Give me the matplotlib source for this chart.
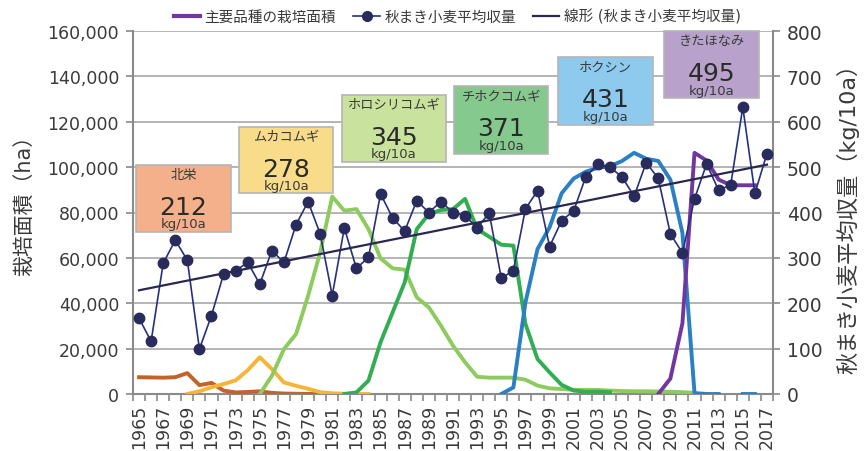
import numpy as np
import matplotlib.pyplot as plt
from matplotlib.lines import Line2D
from matplotlib.patches import Rectangle

plt.rcParams['font.family'] = ['DejaVu Sans', 'Noto Sans CJK JP']

years = np.arange(1965, 2018)

# average yield of autumn-sown wheat (kg/10a)
yields = [167, 116, 288, 339, 295, 99, 173, 264, 272, 290,
          242, 316, 290, 373, 424, 353, 217, 366, 277, 301,
          441, 388, 359, 426, 400, 424, 400, 393, 366, 399,
          255, 272, 408, 448, 325, 382, 404, 479, 506, 500,
          478, 436, 510, 475, 353, 311, 430, 507, 449, 461,
          632, 442, 530]

# planted area of main varieties (ha), each from its first year
hokuei_start = 1965
hokuei = [7400, 7300, 7200, 7400, 9200, 3900, 4900, 1500, 700, 900,
          1200, 500, 200, 100, 50, 0, 0]
mukakomugi_start = 1969
mukakomugi = [0, 1200, 3000, 4400, 6000, 10500, 16200, 11000, 5100, 3600,
              2300, 800, 300, 100, 0, 0]
horoshiri_start = 1975
horoshiri = [0, 8000, 19800, 26400, 43300, 62400, 87000, 80800, 81500, 72700,
             59800, 55400, 54800, 42600, 38200, 30100, 21300, 14000, 7600, 7200,
             7200, 7200, 6300, 3700, 2500, 2200, 1800, 1800, 1800, 1500,
             1300, 1200, 1200, 1100, 1000, 800, 500]
chihoku_start = 1982
chihoku = [0, 700, 5900, 22800, 36000, 49200, 72700, 79300, 81100, 81500,
           86000, 72700, 69300, 65800, 65400, 30900, 15400, 9500, 4000, 1500,
           1000, 1000, 800]
hokushin_start = 1995
hokushin = [0, 2900, 40400, 63900, 73500, 88500, 95000, 98000, 99700, 100400,
            102700, 106300, 103700, 102700, 94500, 71000, 400, 0, 0, np.nan,
            0, 0]
kitahonami_start = 2008
kitahonami = [0, 6800, 31200, 106300, 102900, 94500, 92000, 92000, 92000]

variety_names = ['北栄', 'ムカコムギ', 'ホロシリコムギ', 'チホクコムギ', 'ホクシン', 'きたほなみ']
variety_yields = [212, 278, 345, 371, 431, 495]

line_colors = ['#c4622c', '#f6b536', '#8dcb5e', '#33ad52', '#2b7fc3', '#7236a0']
box_colors = ['#f4b08a', '#f8dc8a', '#c9e29d', '#85c98f', '#8dcaee', '#b8a1cb']
# box position in axes fraction: x0, y0, width, height
box_layout = [(0.005, 0.446, 0.148, 0.185),
              (0.166, 0.554, 0.147, 0.182),
              (0.327, 0.639, 0.162, 0.185),
              (0.502, 0.661, 0.147, 0.187),
              (0.664, 0.741, 0.148, 0.187),
              (0.830, 0.815, 0.148, 0.185)]


def full_series(start, values):
    arr = np.full(len(years), np.nan)
    i = start - years[0]
    arr[i:i + len(values)] = values
    return arr


areas = [full_series(hokuei_start, hokuei),
         full_series(mukakomugi_start, mukakomugi),
         full_series(horoshiri_start, horoshiri),
         full_series(chihoku_start, chihoku),
         full_series(hokushin_start, hokushin),
         full_series(kitahonami_start, kitahonami)]

text_color = '#3a3a3a'
spine_color = '#8a8a8a'

fig = plt.figure(figsize=(8.66, 4.52), dpi=100)
ax = fig.add_axes([133 / 866, 57 / 452, 640 / 866, 363 / 452])
ax2 = ax.twinx()

for area, c in zip(areas, line_colors):
    ax.plot(years, area, color=c, lw=2.8, zorder=3)

ax2.plot(years, yields, color='#25307e', lw=1.2, marker='o', ms=7.5,
         mfc='#282b5c', mec='#282b5c', zorder=4)
coef = np.polyfit(years, yields, 1)
ax2.plot(years, np.polyval(coef, years), color='#2a2850', lw=1.6, zorder=4)

ax.set_xlim(1964.5, 2017.5)
ax.set_ylim(0, 160000)
ax2.set_ylim(0, 800)
ax.set_yticks(np.arange(0, 160001, 20000))
ax.set_yticklabels([f'{v:,}' for v in range(0, 160001, 20000)])
ax2.set_yticks(np.arange(0, 801, 100))

ax.yaxis.grid(True, color='#a8a8a8', lw=1.2)
ax.set_axisbelow(True)

ax.set_xticks(years[::2])
ax.set_xticklabels([str(y) for y in years[::2]], rotation=90)
ax.set_xticks(np.arange(1964.5, 2018), minor=True)
ax.tick_params(axis='x', which='major', length=0, pad=7, labelsize=12.5, labelcolor=text_color)
ax.tick_params(axis='x', which='minor', length=5, width=1.2, color=spine_color)
ax.tick_params(axis='y', length=5, width=1.2, color=spine_color, pad=5,
               labelsize=12.5, labelcolor=text_color)
ax2.tick_params(axis='y', length=5, width=1.2, color=spine_color, pad=5,
                labelsize=13.5, labelcolor=text_color)

for s in ['top', 'right']:
    ax.spines[s].set_visible(False)
for s in ['top', 'left', 'bottom']:
    ax2.spines[s].set_visible(False)
for sp in [ax.spines['left'], ax.spines['bottom'], ax2.spines['right']]:
    sp.set_color(spine_color)
    sp.set_linewidth(1.5)

# variety boxes
for name, val, bc, (x0, y0, w, h) in zip(variety_names, variety_yields, box_colors, box_layout):
    ax2.add_patch(Rectangle((x0, y0), w, h, transform=ax2.transAxes, facecolor=bc,
                            edgecolor='#b5b5b5', lw=1.2, zorder=10, clip_on=False))
    top = y0 + h
    cx = x0 + w / 2
    ax2.text(cx, top - 10 / 363, name, transform=ax2.transAxes, ha='center', va='center',
             fontsize=9.5, color=text_color, zorder=11)
    ax2.text(cx, top - 42 / 363, str(val), transform=ax2.transAxes, ha='center', va='center',
             fontsize=18, color='#2a2a2a', zorder=11)
    ax2.text(cx, top - 59 / 363, 'kg/10a', transform=ax2.transAxes, ha='center', va='center',
             fontsize=9.5, color=text_color, zorder=11)

fig.text(24 / 866, 1 - 200 / 452, '栽培面積（ha）', rotation=90, ha='center', va='center',
         fontsize=15, color=text_color)
fig.text(848 / 866, 1 - 213 / 452, '秋まき小麦平均収量（kg/10a）', rotation=90, ha='center',
         va='center', fontsize=16, color=text_color)

handles = [Line2D([], [], color='#7236a0', lw=3),
           Line2D([], [], color='#25307e', lw=1.2, marker='o', ms=7, mfc='#282b5c', mec='#282b5c'),
           Line2D([], [], color='#2a2850', lw=1.6)]
labels = ['主要品種の栽培面積', '秋まき小麦平均収量', '線形 (秋まき小麦平均収量)']
fig.legend(handles, labels, loc='center', bbox_to_anchor=(0.528, 0.962), ncol=3,
           frameon=False, fontsize=10.5, handlelength=1.8, handletextpad=0.3,
           columnspacing=1.2, labelcolor=text_color)

fig.savefig('out.png', dpi=100)
